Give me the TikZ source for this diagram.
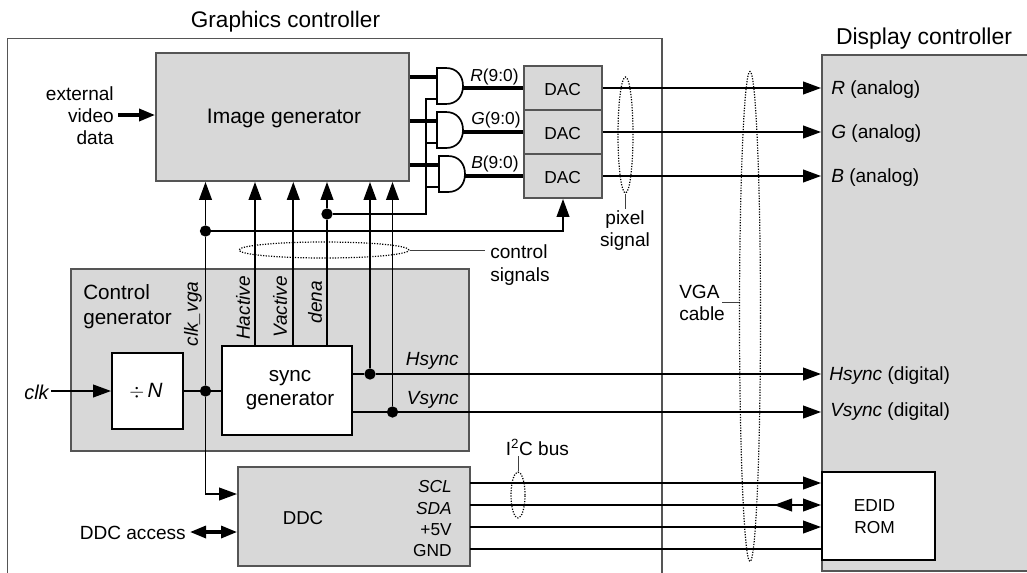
\documentclass[tikz,border=0pt]{standalone}
\usepackage{fontspec}
\setmainfont{Liberation Sans}
\usetikzlibrary{arrows.meta,fit,shapes.geometric}
\definecolor{panel}{HTML}{D8D8D8}
\definecolor{edge}{HTML}{555555}
\newcommand{\fpx}[2]{\fontsize{#1}{#2}\selectfont}
\tikzset{
  graybox/.style={draw=edge,line width=1.4pt,fill=panel,inner sep=0pt},
  whitebox/.style={draw=black,line width=1.4pt,fill=white,inner sep=0pt},
  wire/.style={line width=1.4pt,draw=black},
  bus/.style={line width=3pt,draw=black},
  tiparrow/.style={wire,-{Triangle[length=13.5pt,width=9.5pt]}},
  tipbus/.style={line width=2.6pt,-{Triangle[length=12pt,width=9pt]}},
  tipboth/.style={line width=2.4pt,{Triangle[length=12pt,width=9pt]}-{Triangle[length=12pt,width=9pt]}},
  dotnode/.style={circle,fill=black,inner sep=0pt,minimum size=8.5pt},
  dotring/.style={ellipse,draw=black,line width=.9pt,dash pattern=on .9pt off 1.1pt,inner sep=0pt},
  leader/.style={line width=.7pt,draw=black!75},
  big/.style={font=\fpx{16.9}{20}},
  mid/.style={font=\fpx{15.75}{18.75},inner sep=0pt},
  norm/.style={font=\fpx{14.3}{16.5},inner sep=0pt},
  small/.style={font=\fpx{13}{16},inner sep=0pt},
}
\newcommand{\andgate}[3]{%
  \draw[line width=1.25pt,fill=white] (#2+9,#3) .. controls (#2+20,#3) and (#2+26,#3+8) .. (#2+26,#3+18) .. controls (#2+26,#3+28) and (#2+20,#3+36) .. (#2+9,#3+36) -- (#2,#3+36) -- (#2,#3) -- cycle;
  \coordinate (#1a) at (#2,#3+9);
  \coordinate (#1b) at (#2,#3+31);
  \coordinate (#1o) at (#2+26,#3+20);
}
\begin{document}
\begin{tikzpicture}[x=0.75pt,y=-0.75pt]
\clip (0,0) rectangle (1027,572);
\fill[white] (0,0) rectangle (1027,572);
% frames
\draw[line width=1.1pt,edge] (7.5,575) -- (7.5,38.5) -- (662,38.5) -- (662,575);
\node[graybox,fit={(822,55)(1040,571)}] (disp) {};
\node[graybox,fit={(156,53)(409,181)}] (img) {};
\node[graybox,fit={(71,269)(469,451)}] (ctl) {};
\node[graybox,fit={(238,467)(470,566)}] (ddc) {};
\node[whitebox,fit={(112,353)(183,429)}] (div) {};
\node[whitebox,fit={(222,346)(352,435)}] (sync) {};
\node[whitebox,fit={(822,472)(935,560)}] (edid) {};
\node[graybox,fit={(524,66)(602,110)}] (dacr) {};
\node[graybox,fit={(524,110)(602,154)}] (dacg) {};
\node[graybox,fit={(524,154)(602,198)}] (dacb) {};
% gates
\andgate{gr}{437}{68}
\andgate{gg}{437}{112}
\andgate{gb}{439}{156}
% image generator to gates and DACs
\foreach \g/\d in {gr/dacr,gg/dacg,gb/dacb}{
  \draw[bus] (\g a -| img.east) -- (\g a);
  \draw[bus] (\g o) -- (\g o -| \d.west);
}
\coordinate (ctlup) at (426,99);
\coordinate (dena) at (327,214);
\node[dotnode] (denadot) at (dena) {};
\draw[wire] (grb) -- (ctlup) -- (ctlup |- dena) -- (denadot);
\draw[wire] (ggb) -- (ggb -| ctlup);
\draw[wire] (gbb) -- (gbb -| ctlup);
% clock junctions
\node[dotnode] (clkup) at (205.5,231) {};
\node[dotnode] (clkmid) at (205.5,391) {};
\node[dotnode] (hdot) at (370,374) {};
\node[dotnode] (vdot) at (392.5,412) {};
\coordinate (dacin) at (563,231);
\draw[tiparrow] (clkup) -- (dacin) -- (dacin |- dacb.south);
\draw[tiparrow] (clkmid) -- (clkup) -- (clkup |- img.south);
\coordinate (ddcin) at (205.5,494);
\draw[tiparrow] (clkmid) -- (ddcin) -- (ddcin -| ddc.west);
\draw[wire] (div.east |- clkmid) -- (clkmid) -- (sync.west |- clkmid);
% sync outputs
\coordinate (hact) at (255,346);
\coordinate (vact) at (293.3,346);
\draw[tiparrow] (hact) -- (hact |- img.south);
\draw[tiparrow] (vact) -- (vact |- img.south);
\draw[tiparrow] (dena |- sync.north) -- (denadot) -- (dena |- img.south);
\draw[tiparrow] (hdot) -- (hdot |- img.south);
\draw[tiparrow] (vdot) -- (vdot |- img.south);
% to display
\draw[tiparrow] (dacr.east) -- (dacr.east -| disp.west);
\draw[tiparrow] (dacg.east) -- (dacg.east -| disp.west);
\draw[tiparrow] (dacb.east) -- (dacb.east -| disp.west);
\draw[tiparrow] (sync.east |- hdot) -- (hdot) -- (hdot -| disp.west);
\draw[tiparrow] (sync.east |- vdot) -- (vdot) -- (vdot -| disp.west);
% DDC lines
\coordinate (scl) at (470,483);
\coordinate (sda) at (470,505);
\coordinate (fivev) at (470,527);
\coordinate (gnd) at (470,549);
\coordinate (sdaa) at (774,505);
\coordinate (sdab) at (791,505);
\draw[tiparrow] (scl) -- (scl -| edid.west);
\draw[tiparrow] (sda) -- (sda -| edid.west);
\draw[tiparrow] (sdab) -- (sdaa);
\draw[tiparrow] (fivev) -- (fivev -| edid.west);
\draw[wire] (gnd) -- (gnd -| edid.west);
% inputs
\node[norm,align=right,anchor=east] (ext) at (114,115.5) {external\\video\\data};
\coordinate (exts) at (118,115);
\draw[tipbus] (exts) -- (exts -| img.west);
\node[norm,anchor=east,font=\fpx{15}{18}\itshape] (clk) at (49,392) {clk};
\coordinate (clks) at (51,391);
\draw[tiparrow] (clks) -- (clks -| div.west);
\node[norm,anchor=east] (acc) at (186,533) {DDC access};
\coordinate (accs) at (190,532);
\draw[tipboth] (accs) -- (accs -| ddc.west);
% dotted ellipses and leaders
\node[dotring,minimum width=11.25pt,minimum height=87pt] (pix) at (625.5,135) {};
\node[dotring,minimum width=15.75pt,minimum height=367.5pt] (vga) at (750,316.5) {};
\node[dotring,minimum width=127.5pt,minimum height=12pt] (ctrl) at (324,250) {};
\node[dotring,minimum width=10.5pt,minimum height=34.5pt] (iic) at (518,495) {};
\node[norm,align=center] (pixt) at (625,231) {pixel\\signal};
\draw[leader] (pix.south) -- (pix.south |- 0,209);
\node[norm,align=left,anchor=west,font=\fpx{14.3}{17.5}] (ctrlt) at (490,265) {control\\signals};
\draw[leader] (ctrl.east) -- (485,250);
\node[norm,align=left,anchor=west] (vgat) at (679,303) {VGA\\cable};
\draw[leader] (722,302) -- (vga.west |- 0,302);
\node[norm,anchor=west] (iict) at (505.5,447) {I\textsuperscript{2}C bus};
\draw[leader] (iic.north) -- (iic.north |- 0,456);
% texts
\node[big] (gc) at (285.5,21.5) {Graphics controller};
\node[font=\fpx{17.2}{20}] (dc) at (924,38.5) {Display controller};
\node[mid] (imgt) at (284,118.5) {Image generator};
\node[font=\fpx{15.5}{18},align=center,inner sep=0pt] (synct) at (290,390.5) {sync\\generator};
\node[small,align=center,font=\fpx{13}{16}] (edidt) at (874.5,516.5) {EDID\\ROM};
\node[small] (dt1) at (562.7,89.5) {DAC};
\node[small] (dt2) at (562.7,133.5) {DAC};
\node[small] (dt3) at (562.7,177.5) {DAC};
\node[font=\fpx{15.5}{19},align=left,anchor=west,inner sep=0pt] (cg) at (83,306.5) {Control\\generator};
\node[norm,font=\fpx{15.5}{18}] (dn) at (146,391) {$\div$\,\textit{N}};
\node[norm,font=\fpx{14}{16}] (ddct) at (303,518) {DDC};
\node[small,anchor=east] (t1) at (452,487) {\textit{SCL}};
\node[small,anchor=east] (t2) at (452,509) {\textit{SDA}};
\node[small,anchor=east] (t3) at (452,530) {+5V};
\node[small,anchor=east] (t4) at (452,551) {GND};
\node[small] (tr) at (494.5,77) {\textit{R}(9:0)};
\node[small] (tg) at (496,120) {\textit{G}(9:0)};
\node[small] (tb) at (495,164) {\textit{B}(9:0)};
\node[norm,anchor=east] (ths) at (459,360.5) {\textit{Hsync}};
\node[norm,anchor=east] (tvs) at (459,399.5) {\textit{Vsync}};
\node[norm,rotate=90] (tcv) at (193,314) {\textit{clk\_vga}};
\node[norm,rotate=90] (tha) at (243,308) {\textit{Hactive}};
\node[norm,rotate=90] (tva) at (280,307) {\textit{Vactive}};
\node[norm,rotate=90] (tde) at (315,302) {\textit{dena}};
\node[norm,anchor=west] (dr) at (831,90) {\textit{R} (analog)};
\node[norm,anchor=west] (dg) at (831,134) {\textit{G} (analog)};
\node[norm,anchor=west] (db) at (831,178) {\textit{B} (analog)};
\node[norm,anchor=west] (dh) at (829,376) {\textit{Hsync} (digital)};
\node[norm,anchor=west] (dv) at (830,412) {\textit{Vsync} (digital)};
\end{tikzpicture}
\end{document}
